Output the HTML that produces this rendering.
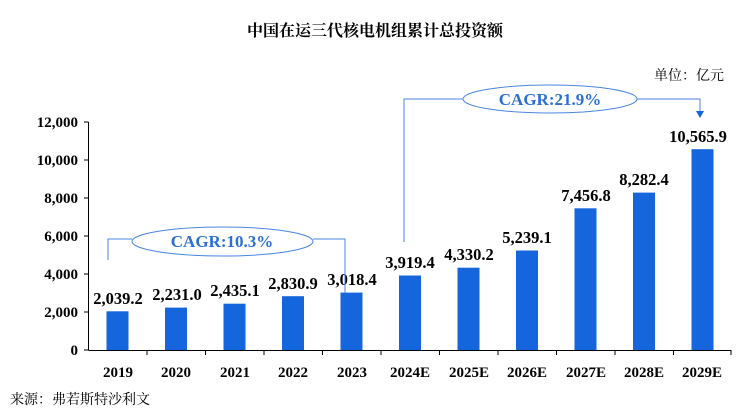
<!DOCTYPE html>
<html><head><meta charset="utf-8"><style>
body{margin:0;background:#fff;}
svg text{font-family:"Liberation Serif","Noto Serif CJK SC",serif;}
</style></head><body>
<svg width="749" height="409" viewBox="0 0 749 409" xmlns="http://www.w3.org/2000/svg">
<text x="375" y="36" text-anchor="middle" font-size="16" font-weight="bold" font-family="'Liberation Sans','Noto Sans CJK SC',sans-serif">中国在运三代核电机组累计总投资额</text>
<text x="724" y="80" text-anchor="end" font-size="14" font-family="'Liberation Sans','Noto Sans CJK SC',sans-serif">单位：亿元</text>
<text x="10" y="404" font-size="14" font-family="'Liberation Sans','Noto Sans CJK SC',sans-serif">来源：弗若斯特沙利文</text>
<g stroke="#000" stroke-width="1">
<line x1="88.5" y1="122" x2="88.5" y2="350"/>
<line x1="88.5" y1="350.5" x2="731" y2="350.5"/>
<line x1="84" y1="122" x2="88.5" y2="122"/><line x1="84" y1="160" x2="88.5" y2="160"/><line x1="84" y1="198" x2="88.5" y2="198"/><line x1="84" y1="236" x2="88.5" y2="236"/><line x1="84" y1="274" x2="88.5" y2="274"/><line x1="84" y1="312" x2="88.5" y2="312"/><line x1="84" y1="350" x2="88.5" y2="350"/>
</g>
<g font-size="15" font-weight="bold" text-anchor="end">
<text x="78" y="127">12,000</text><text x="78" y="165">10,000</text><text x="78" y="203">8,000</text><text x="78" y="241">6,000</text><text x="78" y="279">4,000</text><text x="78" y="317">2,000</text><text x="78" y="355">0</text>
</g>
<g stroke="#000"><line x1="147" y1="350" x2="147" y2="355"/><line x1="205.5" y1="350" x2="205.5" y2="355"/><line x1="264" y1="350" x2="264" y2="355"/><line x1="322.5" y1="350" x2="322.5" y2="355"/><line x1="381" y1="350" x2="381" y2="355"/><line x1="439.5" y1="350" x2="439.5" y2="355"/><line x1="498" y1="350" x2="498" y2="355"/><line x1="556.5" y1="350" x2="556.5" y2="355"/><line x1="615" y1="350" x2="615" y2="355"/><line x1="673.5" y1="350" x2="673.5" y2="355"/><line x1="731" y1="350" x2="731" y2="355"/></g>
<g fill="#1565dc">
<rect x="106.5" y="311.3" width="22" height="38.7"/>
<rect x="165" y="307.6" width="22" height="42.4"/>
<rect x="223.5" y="303.7" width="22" height="46.3"/>
<rect x="282" y="296.2" width="22" height="53.8"/>
<rect x="340.5" y="292.6" width="22" height="57.4"/>
<rect x="399" y="275.5" width="22" height="74.5"/>
<rect x="457.5" y="267.7" width="22" height="82.3"/>
<rect x="516" y="250.5" width="22" height="99.5"/>
<rect x="574.5" y="208.3" width="22" height="141.7"/>
<rect x="633" y="192.6" width="22" height="157.4"/>
<rect x="691.5" y="149.2" width="22" height="200.8"/>
</g>
<g font-size="16.5" font-weight="bold" text-anchor="middle">
<text x="118" y="304">2,039.2</text><text x="177" y="300">2,231.0</text><text x="235" y="296">2,435.1</text><text x="293" y="289">2,830.9</text><text x="352" y="285">3,018.4</text><text x="410" y="268">3,919.4</text><text x="469" y="260">4,330.2</text><text x="527" y="243">5,239.1</text><text x="586" y="201">7,456.8</text><text x="644" y="185">8,282.4</text><text x="698" y="142">10,565.9</text>
</g>
<g font-size="15" font-weight="bold" text-anchor="middle">
<text x="118" y="377">2019</text><text x="176" y="377">2020</text><text x="235" y="377">2021</text><text x="293" y="377">2022</text><text x="352" y="377">2023</text><text x="410" y="377">2024E</text><text x="469" y="377">2025E</text><text x="527" y="377">2026E</text><text x="586" y="377">2027E</text><text x="644" y="377">2028E</text><text x="702" y="377">2029E</text>
</g>
<g fill="none" stroke="#4a86e0" stroke-width="1">
<polyline points="108,260 108,239 132,239"/>
<polyline points="313,239 345,239 345,293"/>
<ellipse cx="222.5" cy="241.5" rx="90.5" ry="14.5" fill="#fff"/>
<polyline points="404,242 404,99 463,99"/>
<polyline points="637,99 700,99 700,112"/>
<ellipse cx="550" cy="99" rx="87" ry="14" fill="#fff"/>
</g>
<polygon points="696,111 704,111 700,118" fill="#1565dc"/>
<g font-size="17" font-weight="bold" fill="#2a6fd6" text-anchor="middle">
<text x="222" y="247">CAGR:10.3%</text>
<text x="550" y="105">CAGR:21.9%</text>
</g>
</svg>
</body></html>
